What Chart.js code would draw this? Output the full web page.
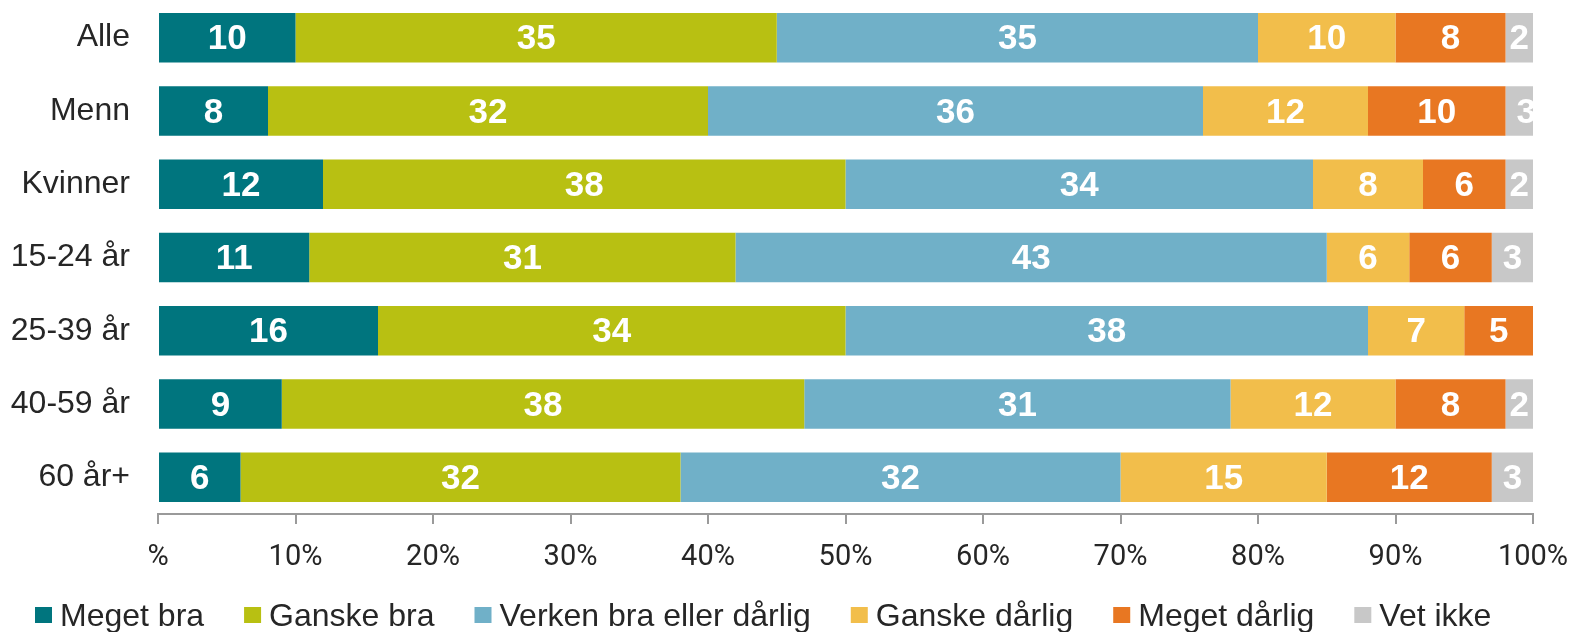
<!DOCTYPE html>
<html>
<head>
<meta charset="utf-8">
<script src="https://cdn.jsdelivr.net/npm/chart.js@4/dist/chart.umd.min.js"></script>
<style>
  html, body { margin: 0; padding: 0; background: #fff; }
  #wrap { width: 1572px; height: 632px; position: relative; }
</style>
</head>
<body>
<div id="wrap"><canvas id="chart"></canvas></div>
<script>
const categories = ['Alle', 'Menn', 'Kvinner', '15-24 år', '25-39 år', '40-59 år', '60 år+'];
const seriesNames = ['Meget bra', 'Ganske bra', 'Verken bra eller dårlig', 'Ganske dårlig', 'Meget dårlig', 'Vet ikke'];

const megetBra     = [10, 8, 12, 11, 16, 9, 6];
const ganskeBra    = [35, 32, 38, 31, 34, 38, 32];
const verken       = [35, 36, 34, 43, 38, 31, 32];
const ganskeDarlig = [10, 12, 8, 6, 7, 12, 15];
const megetDarlig  = [8, 10, 6, 6, 5, 8, 12];
const vetIkke      = [2, 3, 2, 3, 0.2, 2, 3];

const tickLabels = ['%', '10%', '20%', '30%', '40%', '50%', '60%', '70%', '80%', '90%', '100%'];

const colors = ['#00757e', '#b8c012', '#70b0c8', '#f2be4b', '#e87722', '#c8c8c8'];
const allSeries = [megetBra, ganskeBra, verken, ganskeDarlig, megetDarlig, vetIkke];

const FONT = "'Liberation Sans', Arial, sans-serif";

// white value labels in the middle of each segment, clipped to the plot
const barLabels = {
  id: 'barLabels',
  afterDatasetsDraw(chart) {
    const { ctx, chartArea } = chart;
    ctx.save();
    ctx.beginPath();
    ctx.rect(chartArea.left, chartArea.top, chartArea.right - chartArea.left, chartArea.bottom - chartArea.top);
    ctx.clip();
    ctx.fillStyle = '#fff';
    ctx.font = 'bold 35px ' + FONT;
    ctx.textAlign = 'center';
    ctx.textBaseline = 'middle';
    chart.data.datasets.forEach((ds, i) => {
      chart.getDatasetMeta(i).data.forEach((bar, j) => {
        const v = ds.data[j];
        if (v < 1) return;
        const x = (bar.x + bar.base) / 2;
        ctx.fillText(String(v), x, bar.y + 2);
      });
    });
    ctx.restore();
  }
};

// legend row under the axis: square, small gap, text
const bottomLegend = {
  id: 'bottomLegend',
  afterDraw(chart) {
    const ctx = chart.ctx;
    ctx.save();
    ctx.font = '32px ' + FONT;
    ctx.textBaseline = 'alphabetic';
    ctx.textAlign = 'left';
    let x = 35;
    chart.data.datasets.forEach((ds) => {
      ctx.fillStyle = ds.backgroundColor;
      ctx.fillRect(x, 607, 17, 16);
      ctx.fillStyle = '#262626';
      ctx.fillText(ds.label, x + 25, 626);
      x += 25 + ctx.measureText(ds.label).width + 40;
    });
    ctx.restore();
  }
};

new Chart(document.getElementById('chart'), {
  type: 'bar',
  data: {
    labels: categories,
    datasets: allSeries.map((d, i) => ({
      label: seriesNames[i],
      data: d,
      backgroundColor: colors[i],
      borderWidth: 0,
      barPercentage: 0.675,
      categoryPercentage: 1,
    })),
  },
  options: {
    indexAxis: 'y',
    responsive: true,
    maintainAspectRatio: false,
    animation: false,
    layout: { padding: { top: 1, right: 39, left: 0, bottom: 57 } },
    scales: {
      x: {
        stacked: true,
        min: 0,
        max: 100,
        grid: { drawOnChartArea: false, drawTicks: true, tickLength: 10, color: '#9a9a9a', lineWidth: 2 },
        border: { color: '#9a9a9a', width: 2 },
        ticks: {
          stepSize: 10,
          padding: 16,
          color: '#262626',
          font: { family: 'Roboto', size: 29 },
          callback: (v, idx) => tickLabels[idx],
          maxRotation: 0,
        },
        afterFit: (axis) => {
          axis.height = 61;
          axis.paddingLeft = 0;
          axis.paddingRight = 0;
        },
      },
      y: {
        stacked: true,
        grid: { display: false, drawTicks: false },
        border: { display: false },
        ticks: {
          padding: 28,
          color: '#262626',
          font: { family: FONT, size: 32 },
        },
        afterFit: (axis) => {
          axis.width = 158;
          axis.paddingTop = 0;
          axis.paddingBottom = 0;
        },
      },
    },
    plugins: {
      legend: { display: false },
      tooltip: { enabled: false },
    },
  },
  plugins: [barLabels, bottomLegend],
});
</script>
</body>
</html>
